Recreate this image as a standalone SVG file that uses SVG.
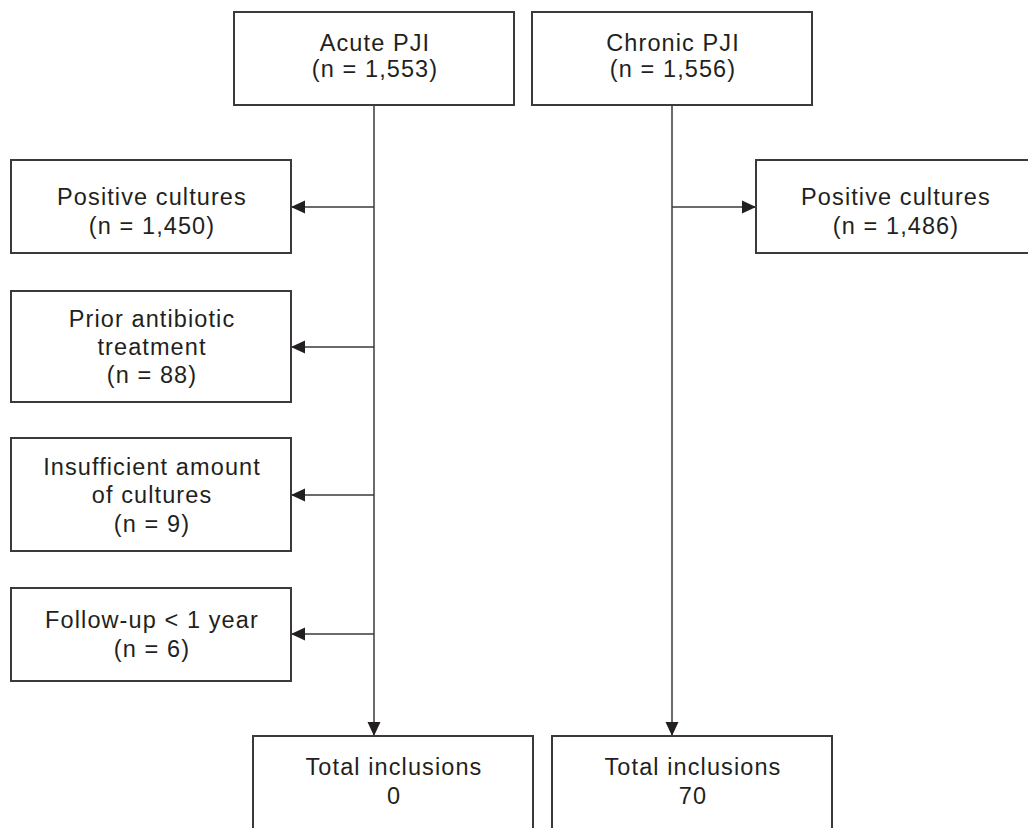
<svg xmlns="http://www.w3.org/2000/svg" width="1028" height="828" viewBox="0 0 1028 828">
<style>
.box{fill:#fff;stroke:#3a3a3a;stroke-width:2}
.t{font-family:"Liberation Sans",Arial,sans-serif;font-size:23.5px;letter-spacing:1.1px;fill:#231f20;text-anchor:middle}
.c{fill:none;stroke:#3a3a3a;stroke-width:1.5}
</style>
<defs>
<marker id="ah" markerUnits="userSpaceOnUse" markerWidth="15" markerHeight="15" viewBox="0 0 15 15" refX="14" refY="7.5" orient="auto">
<path d="M0,1 L14,7.5 L0,14 Z" fill="#231f20"/>
</marker>
</defs>
<rect width="1028" height="828" fill="#fff"/>
<g id="connectors">
<line class="c" x1="374" y1="105" x2="374" y2="736" marker-end="url(#ah)"/>
<line class="c" x1="672" y1="105" x2="672" y2="736" marker-end="url(#ah)"/>
<line class="c" x1="374" y1="207" x2="291" y2="207" marker-end="url(#ah)"/>
<line class="c" x1="374" y1="347" x2="291" y2="347" marker-end="url(#ah)"/>
<line class="c" x1="374" y1="495" x2="291" y2="495" marker-end="url(#ah)"/>
<line class="c" x1="374" y1="634" x2="291" y2="634" marker-end="url(#ah)"/>
<line class="c" x1="672" y1="207" x2="756" y2="207" marker-end="url(#ah)"/>
</g>
<g id="acute">
<rect class="box" x="234" y="12" width="280" height="93"/>
<text class="t" x="375" y="51">Acute PJI</text>
<text class="t" x="375" y="77">(n = 1,553)</text>
</g>
<g id="chronic">
<rect class="box" x="532" y="12" width="280" height="93"/>
<text class="t" x="673" y="51">Chronic PJI</text>
<text class="t" x="673" y="77">(n = 1,556)</text>
</g>
<g id="pos-left">
<rect class="box" x="11" y="160" width="280" height="93"/>
<text class="t" x="152" y="205">Positive cultures</text>
<text class="t" x="152" y="234">(n = 1,450)</text>
</g>
<g id="prior">
<rect class="box" x="11" y="291" width="280" height="111"/>
<text class="t" x="152" y="327">Prior antibiotic</text>
<text class="t" x="152" y="355">treatment</text>
<text class="t" x="152" y="383">(n = 88)</text>
</g>
<g id="insufficient">
<rect class="box" x="11" y="438" width="280" height="113"/>
<text class="t" x="152" y="475">Insufficient amount</text>
<text class="t" x="152" y="503">of cultures</text>
<text class="t" x="152" y="532">(n = 9)</text>
</g>
<g id="followup">
<rect class="box" x="11" y="588" width="280" height="93"/>
<text class="t" x="152" y="628">Follow-up &lt; 1 year</text>
<text class="t" x="152" y="657">(n = 6)</text>
</g>
<g id="pos-right">
<rect class="box" x="756" y="160" width="300" height="93"/>
<text class="t" x="896" y="205">Positive cultures</text>
<text class="t" x="896" y="234">(n = 1,486)</text>
</g>
<g id="total-left">
<rect class="box" x="253" y="736" width="280" height="120"/>
<text class="t" x="394" y="775">Total inclusions</text>
<text class="t" x="394" y="804">0</text>
</g>
<g id="total-right">
<rect class="box" x="552" y="736" width="280" height="120"/>
<text class="t" x="693" y="775">Total inclusions</text>
<text class="t" x="693" y="804">70</text>
</g>
</svg>
